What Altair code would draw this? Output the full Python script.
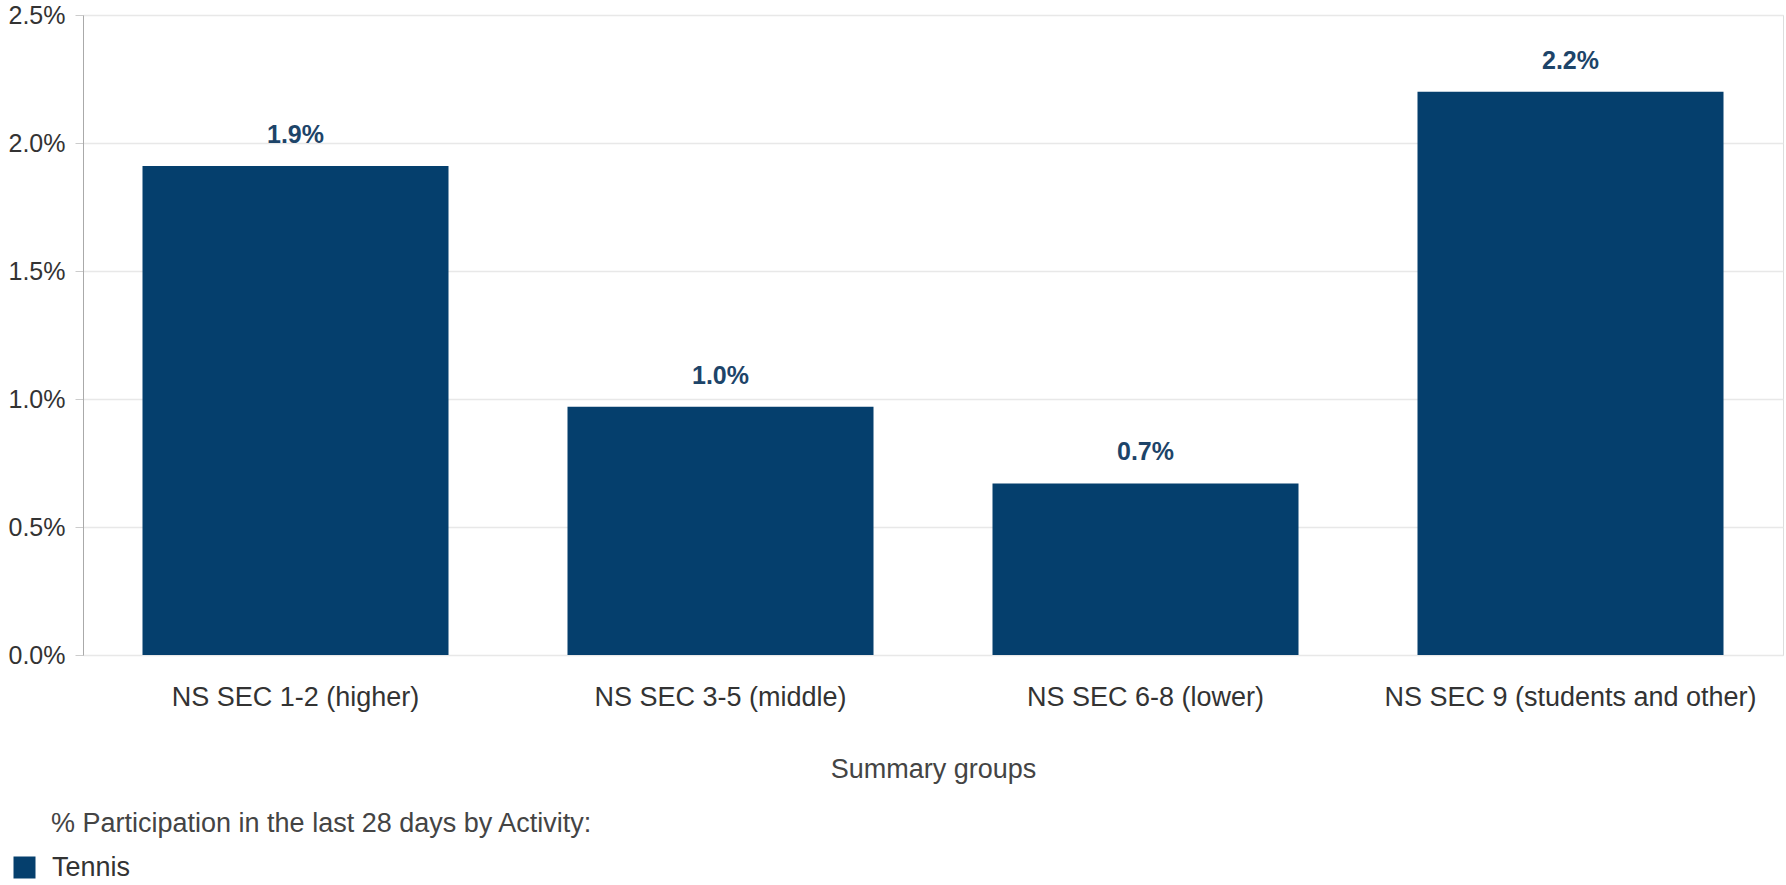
import altair as alt
import pandas as pd

groups = ["NS SEC 1-2 (higher)", "NS SEC 3-5 (middle)", "NS SEC 6-8 (lower)", "NS SEC 9 (students and other)"]
values = [0.0191, 0.0097, 0.0067, 0.0220]
activity = ["Tennis", "Tennis", "Tennis", "Tennis"]
y_ticks = [0.0, 0.005, 0.010, 0.015, 0.020, 0.025]

df = pd.DataFrame({"group": groups, "value": values, "activity": activity})

FONT = "Liberation Sans"
BAR = "#053f6d"

x_enc = alt.X("group:N", sort=groups, title="Summary groups",
              scale=alt.Scale(paddingInner=0.28, paddingOuter=0.14),
              axis=alt.Axis(labelAngle=0, ticks=False, domain=False, labelPadding=29,
                            labelLimit=0,
                            labelFontSize=27, labelColor="#333333", labelFont=FONT,
                            titleFontSize=27, titleFont=FONT, titleColor="#444444",
                            titleFontWeight="normal", titlePadding=46, grid=False))

y_enc = alt.Y("value:Q", title=None,
              scale=alt.Scale(domain=[0, 0.025], nice=False),
              axis=alt.Axis(values=y_ticks, format=".1%", labelFontSize=25, labelFont=FONT,
                            labelColor="#333333", tickSize=8, tickColor="#cccccc",
                            labelPadding=10, domainColor="#aaaaaa", gridColor="#e8e8e8",
                            gridWidth=1.5))

bars = alt.Chart(df).mark_bar(size=306).encode(
    x=x_enc,
    y=y_enc,
    color=alt.Color("activity:N", scale=alt.Scale(range=[BAR]),
                    legend=alt.Legend(title="% Participation in the last 28 days by Activity:",
                                      orient="none", legendX=-32, legendY=796,
                                      titleFontSize=27, titleFont=FONT, titleFontWeight="normal",
                                      titleColor="#444444", titlePadding=16, titleLimit=0,
                                      labelFontSize=27, labelFont=FONT, labelColor="#333333",
                                      labelLimit=0,
                                      symbolType="square", symbolSize=484, symbolStrokeWidth=0,
                                      symbolOffset=-40, labelOffset=14)),
)

labels = alt.Chart(df).mark_text(fontSize=25, fontWeight="bold", font=FONT, color="#1d4469",
                                  baseline="alphabetic", dy=-23).encode(
    x=alt.X("group:N", sort=groups),
    y=alt.Y("value:Q"),
    text=alt.Text("value:Q", format=".1%"),
)

chart = alt.layer(bars, labels).properties(
    width=1700, height=640,
    autosize=alt.AutoSizeParams(type="none"),
    padding={"left": 83, "top": 15, "right": 3, "bottom": 230},
).configure_view(strokeWidth=0).configure(background="white")

chart.save("out.html", embed_options={"renderer": "svg", "actions": False})
